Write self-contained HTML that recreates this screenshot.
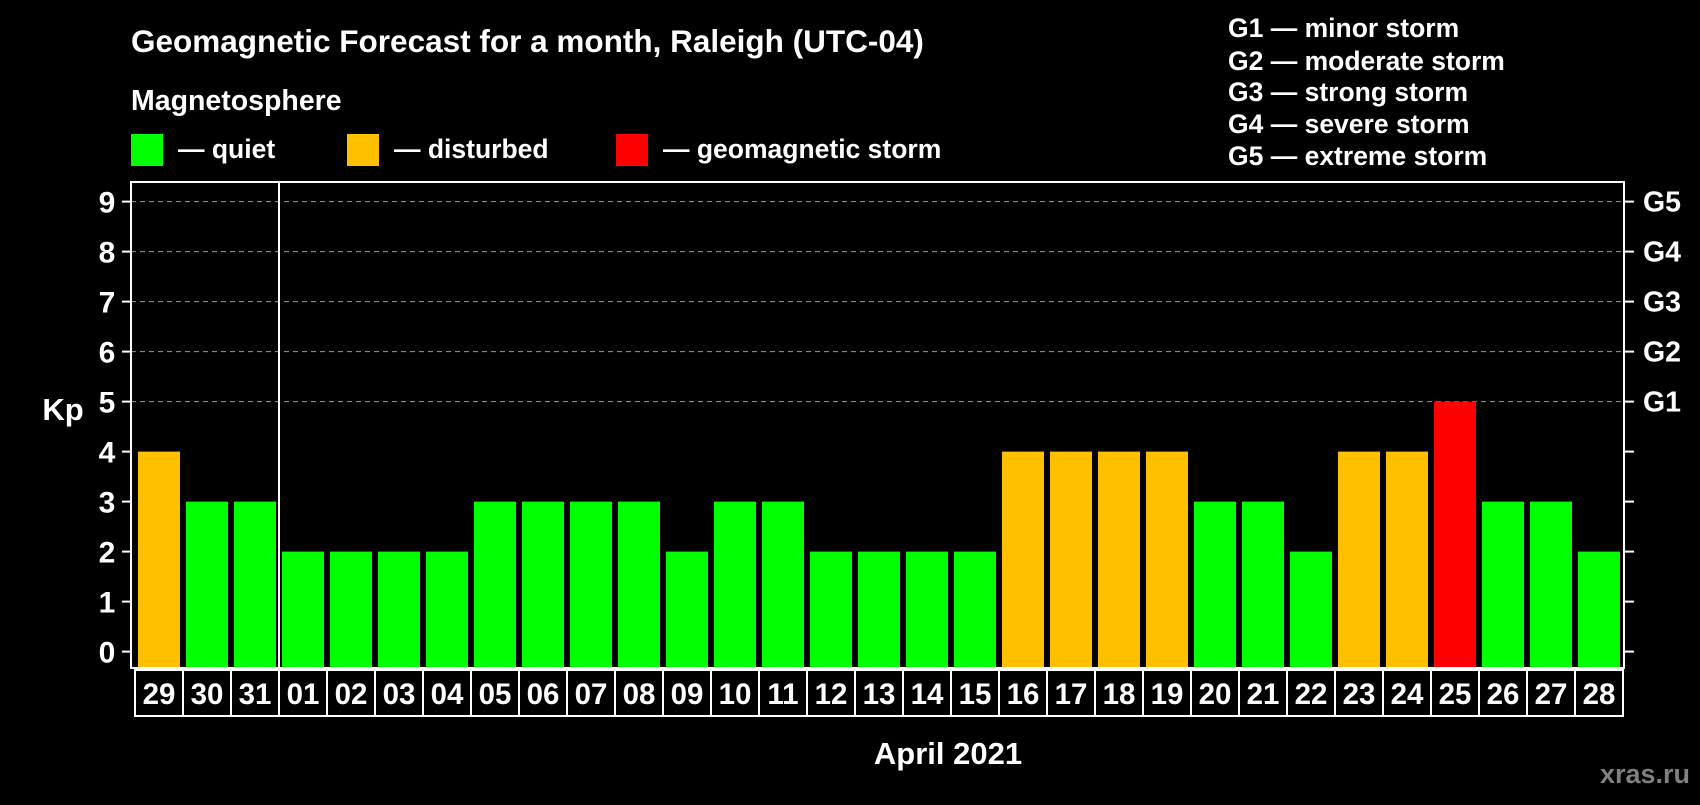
<!DOCTYPE html>
<html><head><meta charset="utf-8"><style>
html,body{margin:0;padding:0;background:#000;}
svg text{font-family:"Liberation Sans",Arial,sans-serif;font-weight:bold;fill:#fff;}
</style></head><body>
<svg id="chart" width="1700" height="800" viewBox="0 0 1700 800" xmlns="http://www.w3.org/2000/svg">
<rect width="1700" height="800" fill="#000"/>
<text x="131" y="52" font-size="31.5">Geomagnetic Forecast for a month, Raleigh (UTC-04)</text>
<text x="131" y="110" font-size="28.5">Magnetosphere</text>
<g><rect x="131" y="134" width="32" height="32" fill="#00ff00"/><text x="178" y="158" font-size="26.5">— quiet</text></g>
<g><rect x="347" y="134" width="32" height="32" fill="#ffc000"/><text x="394" y="158" font-size="26.5">— disturbed</text></g>
<g><rect x="616" y="134" width="32" height="32" fill="#ff0000"/><text x="663" y="158" font-size="26.5">— geomagnetic storm</text></g>
<g font-size="26.5">
<text x="1228" y="37">G1 — minor storm</text>
<text x="1228" y="70">G2 — moderate storm</text>
<text x="1228" y="101">G3 — strong storm</text>
<text x="1228" y="133">G4 — severe storm</text>
<text x="1228" y="165">G5 — extreme storm</text>
</g>
<g id="grid"></g>
<g id="bars"></g>
<rect x="131" y="182" width="1493" height="486" fill="none" stroke="#fff" stroke-width="2"/>
<line x1="279" y1="182" x2="279" y2="668" stroke="#fff" stroke-width="2"/>
<g id="axes"></g>
<text x="63" y="420" font-size="31" text-anchor="middle">Kp</text>
<text x="948" y="764" font-size="31" text-anchor="middle">April 2021</text>
<text x="1690" y="783" font-size="27" text-anchor="end" style="fill:#808080">xras.ru</text>
</svg>
<script>
const days = ["29","30","31","01","02","03","04","05","06","07","08","09","10","11","12","13","14","15","16","17","18","19","20","21","22","23","24","25","26","27","28"];
const kp = [4,3,3,2,2,2,2,3,3,3,3,2,3,3,2,2,2,2,4,4,4,4,3,3,2,4,4,5,3,3,2];
const yTicks = [0,1,2,3,4,5,6,7,8,9];
const gLabels = ["G1","G2","G3","G4","G5"];
const NS="http://www.w3.org/2000/svg";
const y0=651.6, unit=50, x0=138, pitch=48, bw=42, yBottom=668;
const yPos=v=>y0-v*unit;
const xPos=i=>x0+i*pitch;
function mk(t,a,p){const e=document.createElementNS(NS,t);for(const k in a)e.setAttribute(k,a[k]);p.appendChild(e);return e;}
const grid=document.getElementById('grid'),bars=document.getElementById('bars'),axes=document.getElementById('axes');
yTicks.forEach(v=>{
  const y=yPos(v);
  if(v>=5){const g=mk('line',{x1:131,x2:1624,y1:y,y2:y,stroke:'#999','stroke-dasharray':'5,4','stroke-width':1},grid);
  
  }
  const tl=mk('line',{x1:122,x2:131,y1:y,y2:y,stroke:'#fff','stroke-width':2},axes);
  
  
  const tr=mk('line',{x1:1624,x2:1634,y1:y,y2:y,stroke:'#fff','stroke-width':2},axes);
  
  
  const t=mk('text',{x:107,y:y+11,'font-size':30,'text-anchor':'middle'},axes);t.textContent=v;
  
  
  if(v>=5){const g=mk('text',{x:1643,y:y+10,'font-size':28.5},axes);g.textContent=gLabels[v-5];
  
  }
});
kp.forEach((v,i)=>{
  const c=v>=5?'#ff0000':(v>=4?'#ffc000':'#00ff00');
  const r=mk('rect',{x:xPos(i),y:yPos(v),width:bw,height:yBottom-yPos(v),fill:c},bars);
  
  
  const cx=135+i*pitch;
  const b=mk('rect',{x:cx,y:670,width:pitch,height:46,fill:'none',stroke:'#fff','stroke-width':2},axes);
  
  
  const t=mk('text',{x:cx+pitch/2,y:704,'font-size':29.5,'text-anchor':'middle'},axes);t.textContent=days[i];
  
  
});
</script>
</body></html>
